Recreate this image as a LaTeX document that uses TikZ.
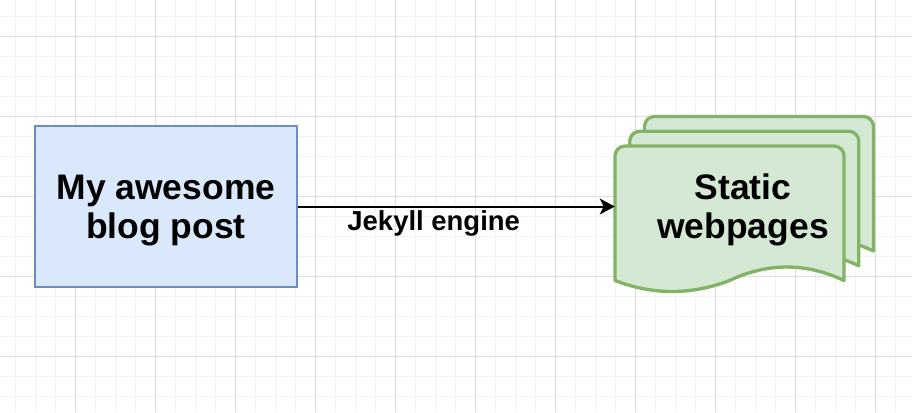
\documentclass[tikz,border=0pt]{standalone}
\usepackage{fontspec}
\setmainfont{Liberation Sans}
\usetikzlibrary{arrows.meta}
\definecolor{blueFill}{HTML}{DAE8FC}
\definecolor{blueLine}{HTML}{6C8EBF}
\definecolor{greenFill}{HTML}{D5E8D4}
\definecolor{greenLine}{HTML}{82B366}
\definecolor{gridMinor}{HTML}{F2F2F2}
\definecolor{gridMajor}{HTML}{DDDDDD}
\tikzset{
  minorgrid/.style={draw=gridMinor, line width=0.75pt},
  majorgrid/.style={draw=gridMajor, line width=0.75pt},
  postbox/.style={rectangle, draw=blueLine, fill=blueFill, line width=1.1pt,
    minimum width=196.5pt, minimum height=120.75pt, inner sep=0pt},
  pagesheet/.style={draw=greenLine, fill=greenFill, line width=2.5pt, line join=round},
  bigtext/.style={font=\bfseries\fontsize{26.6pt}{29.6pt}\selectfont, align=center, inner sep=0pt},
  edgetext/.style={font=\bfseries\fontsize{20.6pt}{24pt}\selectfont, inner sep=0pt},
  flow/.style={-{Stealth[length=11.25pt, width=12pt, inset=3pt]}, line width=1.5pt, black},
  anchorbox/.style={rectangle, draw=none, inner sep=0pt, minimum width=171.75pt, minimum height=100.9pt},
}
\newcommand{\docpage}{%
  \path[pagesheet] (615,280.5) -- (615,156)
    .. controls (615,150.48) and (619.52,146) .. (625,146) -- (834,146)
    .. controls (839.48,146) and (844,150.48) .. (844,156) -- (844,280.5)
    .. controls (805.83,262.5) and (767.67,262.5) .. (729.5,280.5)
    .. controls (691.33,295.17) and (653.17,295.17) .. (615,280.5) -- cycle;}
\begin{document}
\begin{tikzpicture}[x=0.75pt, y=-0.75pt]
  \useasboundingbox (0,0) rectangle (912,412);
  \fill[white] (0,0) rectangle (912,412);
  % grid
  \foreach \gx in {15,35,...,895} \draw[minorgrid] (\gx,0) -- (\gx,412);
  \foreach \gy in {16,36,...,396} \draw[minorgrid] (0,\gy) -- (912,\gy);
  \foreach \gx in {75,155,...,875} \draw[majorgrid] (\gx,0) -- (\gx,412);
  \foreach \gy in {36,116,...,356} \draw[majorgrid] (0,\gy) -- (912,\gy);
  % source box
  \node[postbox] (blog) at (166,206.5) {};
  \node[bigtext] (blogtxt) at (166,210.8) {My awesome\\blog post};
  % stacked pages
  \begin{scope}[shift={(29.5,-29.5)}]\docpage\end{scope}
  \begin{scope}[shift={(14.75,-14.75)}]\docpage\end{scope}
  \docpage
  \node[anchorbox] (web) at (729.5,213.25) {};
  \node[bigtext] (webtxt) at (743,209.8) {Static\\webpages};
  % connector
  \draw[flow] (blog.east) -- (blog.east -| web.west);
  \node[edgetext, anchor=base] (lbl) at (433.7,230.7) {Jekyll engine};
\end{tikzpicture}
\end{document}
